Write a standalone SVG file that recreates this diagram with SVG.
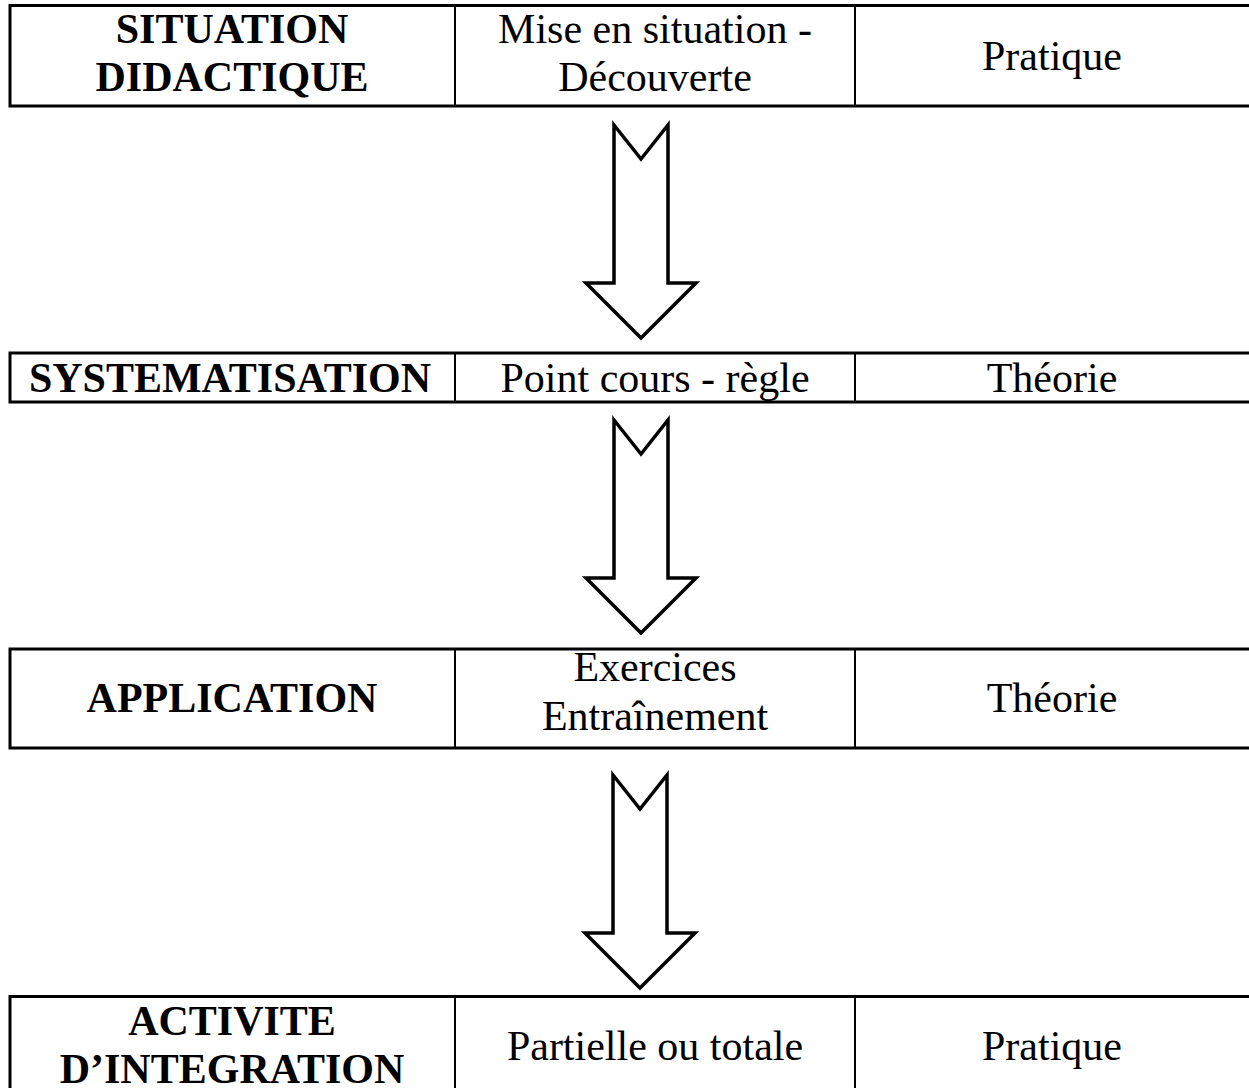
<svg xmlns="http://www.w3.org/2000/svg" width="1249" height="1088" viewBox="0 0 1249 1088">
<style>
.box{fill:#fff;stroke:#000;stroke-width:3}
.div{stroke:#000;stroke-width:2}
.t{font-family:"Liberation Serif","Times New Roman",serif;font-size:42px;fill:#000;text-anchor:middle}
.b{font-weight:bold}
.arr{fill:#fff;stroke:#000;stroke-width:3.5;stroke-linejoin:miter}
</style>
<rect width="1249" height="1088" fill="#fff"/>
<g id="row1">
<rect class="box" x="10" y="5.5" width="1260" height="100.5"/>
<line class="div" x1="455" y1="5.5" x2="455" y2="106"/>
<line class="div" x1="855" y1="5.5" x2="855" y2="106"/>
<text class="t b" x="232" y="43">SITUATION</text>
<text class="t b" x="232" y="91">DIDACTIQUE</text>
<text class="t" x="655" y="43">Mise en situation -</text>
<text class="t" x="655" y="91">Découverte</text>
<text class="t" x="1052" y="70">Pratique</text>
</g>
<g id="row2">
<rect class="box" x="10" y="353" width="1260" height="49"/>
<line class="div" x1="455" y1="353" x2="455" y2="402"/>
<line class="div" x1="855" y1="353" x2="855" y2="402"/>
<text class="t b" x="230" y="392">SYSTEMATISATION</text>
<text class="t" x="655" y="392">Point cours - règle</text>
<text class="t" x="1052" y="392">Théorie</text>
</g>
<g id="row3">
<rect class="box" x="10" y="649" width="1260" height="99"/>
<line class="div" x1="455" y1="649" x2="455" y2="748"/>
<line class="div" x1="855" y1="649" x2="855" y2="748"/>
<text class="t b" x="232" y="712">APPLICATION</text>
<text class="t" x="655" y="681">Exercices</text>
<text class="t" x="655" y="730">Entraînement</text>
<text class="t" x="1052" y="712">Théorie</text>
</g>
<g id="row4">
<rect class="box" x="10" y="996.5" width="1260" height="110"/>
<line class="div" x1="455" y1="996.5" x2="455" y2="1100"/>
<line class="div" x1="855" y1="996.5" x2="855" y2="1100"/>
<text class="t b" x="232" y="1035">ACTIVITE</text>
<text class="t b" x="232" y="1083">D’INTEGRATION</text>
<text class="t" x="655" y="1060">Partielle ou totale</text>
<text class="t" x="1052" y="1060">Pratique</text>
</g>
<g id="connectors">
<path class="arr" d="M614 125 L641 159 L668 125 L668 283 L696 283 L641 338 L586 283 L614 283 Z"/>
<path class="arr" d="M614 420 L641 454 L668 420 L668 578 L696 578 L641 633 L586 578 L614 578 Z"/>
<path class="arr" d="M613 775 L640 809 L667 775 L667 933 L695 933 L640 988 L585 933 L613 933 Z"/>
</g>
</svg>
